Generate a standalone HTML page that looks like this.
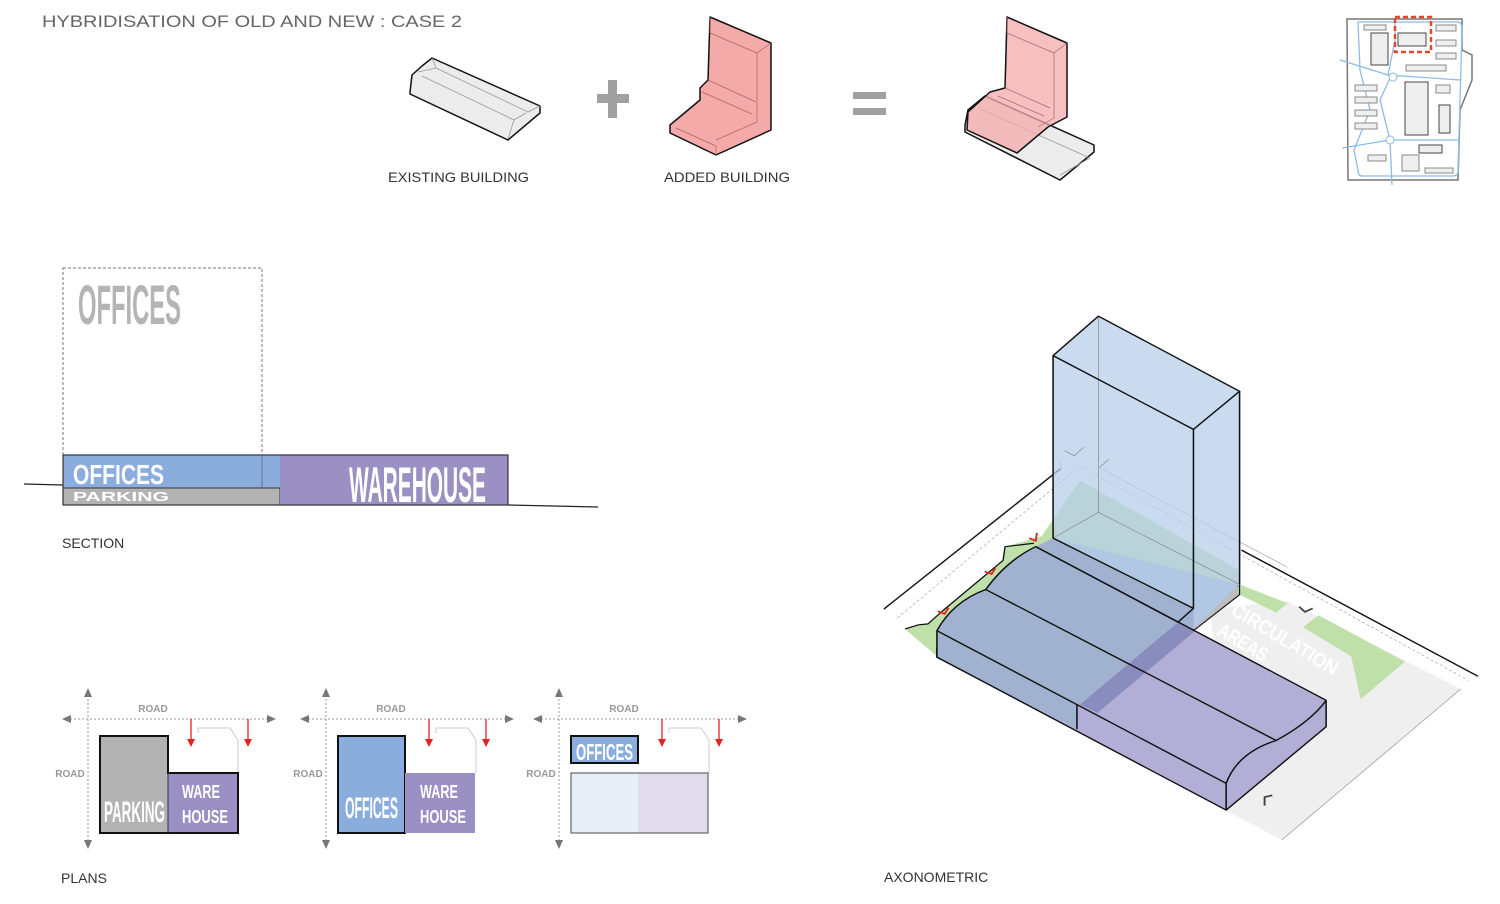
<!DOCTYPE html>
<html><head><meta charset="utf-8"><style>
html,body{margin:0;padding:0;background:#fff}
svg{display:block}
.l{font-family:"Liberation Sans",sans-serif;fill:#333}
.n{font-family:"Liberation Sans Narrow","Liberation Sans",sans-serif;font-weight:bold}
</style></head><body>
<svg width="1500" height="904" viewBox="0 0 1500 904" xmlns="http://www.w3.org/2000/svg">
<text x="42" y="27" class="l" font-size="17" style="fill:#666" textLength="420" lengthAdjust="spacingAndGlyphs">HYBRIDISATION OF OLD AND NEW : CASE 2</text>
<text x="388" y="182" class="l" font-size="14" textLength="141" lengthAdjust="spacingAndGlyphs">EXISTING BUILDING</text>
<text x="664" y="182" class="l" font-size="14" textLength="126" lengthAdjust="spacingAndGlyphs">ADDED BUILDING</text>
<text x="62" y="548" class="l" font-size="14">SECTION</text>
<text x="61" y="883" class="l" font-size="14">PLANS</text>
<text x="884" y="882" class="l" font-size="14">AXONOMETRIC</text>

<g stroke="#111" stroke-width="1.5" stroke-linejoin="round">
<path d="M410,92 L412,75 L422,66 L432,58 L540,106 L540,113 L508,140 L410,94 Z" fill="#ececec"/>
<path d="M432,58 L436,68 L528,112 L540,106 M436,68 L418,72 M422,76 L514,120 L526,113 M514,120 L508,139" fill="none" stroke="#999" stroke-width="0.8"/>
</g>
<rect x="597" y="94" width="32" height="9" fill="#a0a0a0"/><rect x="608" y="80" width="9" height="38" fill="#a0a0a0"/>
<rect x="853" y="92" width="33" height="7" fill="#a0a0a0"/><rect x="853" y="108" width="33" height="7" fill="#a0a0a0"/>
<g stroke="#111" stroke-width="1.5" stroke-linejoin="round">
<path d="M710,17 L771,43 L771,130 L716,155 L670,133 L670,125 L700,100 L700,88 L708,80 Z" fill="#f4aaa9"/>
<path d="M710,17 L710,33 L757,53 L771,43 M757,53 L757,122 L716,140 M708,80 L756,102 M702,92 L752,114 M676,128 L716,146 L716,155" fill="none" stroke="#a66" stroke-width="0.7"/>
</g>
<g stroke="#111" stroke-width="1.5" stroke-linejoin="round">
<path d="M965,125 L968,110 L985,96 L1094,145 L1094,152 L1060,180 L965,132 Z" fill="#ececec"/>
<path d="M978,108 L1090,158 L1060,175" fill="none" stroke="#999" stroke-width="0.8"/>
<path d="M1007,17 L1067,43 L1067,117 L1048,127 L1017,153 L967,130 L968,112 L990,92 L1005,88 Z" fill="#f4aaa9" fill-opacity="0.75"/>
<path d="M1007,17 L1007,33 L1054,53 L1067,43 M1054,53 L1054,118 L1038,127 M1005,88 L1050,108 M998,96 L1044,116" fill="none" stroke="#a66" stroke-width="0.7"/>
</g>

<g fill="#efefef" stroke="#888" stroke-width="1">
<path d="M1347,19 L1462,19 L1462,50 L1472,55 L1472,80 L1460,110 L1458,180 L1348,180 Z" fill="#fff" stroke="#777" stroke-width="1.5"/>
<path d="M1358,22 L1458,22 Q1462,22 1462,30 L1458,172 Q1458,176 1452,176 L1362,176 Q1358,176 1358,170 L1354,150 L1370,110 L1360,70 L1358,22 Z" fill="none" stroke="#8cbce6" stroke-width="1.3"/>
<path d="M1340,60 L1388,75 L1395,40 L1395,22 M1388,75 L1460,80 M1390,78 L1380,100 L1390,140 L1460,140 M1390,140 L1392,185 M1342,148 L1390,140" fill="none" stroke="#8cbce6" stroke-width="1.3"/>
<circle cx="1393" cy="77" r="4" fill="#fff" stroke="#8cbce6"/><circle cx="1390" cy="140" r="4" fill="#fff" stroke="#8cbce6"/>
<rect x="1371" y="33" width="17" height="32" stroke="#444"/>
<rect x="1398" y="33" width="28" height="13" stroke="#444"/>
<rect x="1405" y="82" width="23" height="53" stroke="#444"/>
<rect x="1439" y="105" width="11" height="28" stroke="#444"/>
<rect x="1419" y="145" width="23" height="8" stroke="#444"/>
<rect x="1436" y="25" width="20" height="6"/><rect x="1436" y="40" width="20" height="6"/><rect x="1436" y="53" width="20" height="6"/><rect x="1406" y="65" width="40" height="6"/>
<rect x="1355" y="85" width="22" height="6"/><rect x="1355" y="97" width="22" height="6"/><rect x="1355" y="110" width="22" height="6"/><rect x="1355" y="123" width="22" height="6"/>
<rect x="1368" y="155" width="18" height="6"/><rect x="1402" y="155" width="17" height="16"/><rect x="1425" y="168" width="28" height="5"/>
<rect x="1436" y="85" width="14" height="8"/><rect x="1364" y="25" width="22" height="5"/>
</g>
<rect x="1395" y="17" width="36" height="35" fill="none" stroke="#e8472c" stroke-width="2.5" stroke-dasharray="5,3"/>

<rect x="63" y="268" width="199" height="187" fill="none" stroke="#777" stroke-width="1" stroke-dasharray="3,2"/>
<text x="78" y="324" class="n" font-size="56" fill="#b4b4b4" textLength="103" lengthAdjust="spacingAndGlyphs">OFFICES</text>
<line x1="24" y1="484" x2="63" y2="485" stroke="#222" stroke-width="1.2"/>
<line x1="508" y1="505" x2="598" y2="507" stroke="#222" stroke-width="1.2"/>
<rect x="63" y="455" width="217" height="33" fill="#8aaddd"/>
<rect x="63" y="488" width="217" height="17" fill="#b3b3b3" stroke="#333" stroke-width="1"/>
<rect x="280" y="455" width="228" height="50" fill="#9a90c4"/>
<rect x="63" y="455" width="445" height="50" fill="none" stroke="#333" stroke-width="1.2"/>
<line x1="262" y1="455" x2="262" y2="488" stroke="#666" stroke-width="0.8"/>
<text x="73" y="484" class="n" font-size="28" fill="#fff" textLength="91" lengthAdjust="spacingAndGlyphs">OFFICES</text>
<text x="73" y="501" font-family="Liberation Sans,sans-serif" font-weight="bold" font-size="13" fill="#fff" textLength="96" lengthAdjust="spacingAndGlyphs">PARKING</text>
<text x="349" y="502" class="n" font-size="50" fill="#fff" textLength="137" lengthAdjust="spacingAndGlyphs">WAREHOUSE</text>

<defs>
<g id="ax">
<line x1="88" y1="695" x2="88" y2="842" stroke="#999" stroke-dasharray="2,2"/>
<line x1="70" y1="719" x2="270" y2="719" stroke="#999" stroke-dasharray="2,2"/>
<path d="M84,697 L88,688 L92,697 Z M84,840 L88,849 L92,840 Z M71,715 L62,719 L71,723 Z M267,715 L276,719 L267,723 Z" fill="#777"/>
<text x="153" y="712" class="n" font-size="10" fill="#999" text-anchor="middle">ROAD</text>
<text x="70" y="777" class="n" font-size="10" fill="#999" text-anchor="middle">ROAD</text>
<path d="M198,733 L198,728 L230,728 L238,740 L238,773" fill="none" stroke="#ccc" stroke-width="1"/>
<line x1="191" y1="719" x2="191" y2="740" stroke="#e52222" stroke-width="1.3"/><path d="M187,739 L191,747 L195,739 Z" fill="#e52222"/>
<line x1="248" y1="719" x2="248" y2="740" stroke="#e52222" stroke-width="1.3"/><path d="M244,739 L248,747 L252,739 Z" fill="#e52222"/>
</g>
</defs>
<use href="#ax"/>
<rect x="100" y="736" width="68" height="97" fill="#b3b3b3"/>
<rect x="168" y="773" width="70" height="60" fill="#9a90c4"/>
<path d="M100,736 L168,736 L168,773 L238,773 L238,833 L100,833 Z" fill="none" stroke="#111" stroke-width="2"/>
<line x1="168" y1="773" x2="168" y2="833" stroke="#333" stroke-width="1"/>
<text x="104" y="822" class="n" font-size="30" fill="#fff" textLength="61" lengthAdjust="spacingAndGlyphs">PARKING</text>
<text x="182" y="798" class="n" font-size="18" fill="#fff" textLength="38" lengthAdjust="spacingAndGlyphs">WARE</text>
<text x="182" y="823" class="n" font-size="18" fill="#fff" textLength="46" lengthAdjust="spacingAndGlyphs">HOUSE</text>

<use href="#ax" transform="translate(238,0)"/>
<rect x="338" y="736" width="67" height="97" fill="#8aaddd" stroke="#111" stroke-width="2"/>
<rect x="405" y="773" width="70" height="60" fill="#9a90c4"/>
<text x="345" y="818" class="n" font-size="30" fill="#fff" textLength="53" lengthAdjust="spacingAndGlyphs">OFFICES</text>
<text x="420" y="798" class="n" font-size="18" fill="#fff" textLength="38" lengthAdjust="spacingAndGlyphs">WARE</text>
<text x="420" y="823" class="n" font-size="18" fill="#fff" textLength="46" lengthAdjust="spacingAndGlyphs">HOUSE</text>

<use href="#ax" transform="translate(471,0)"/>
<rect x="571" y="773" width="67" height="60" fill="#e8eef8"/>
<rect x="638" y="773" width="70" height="60" fill="#e1dcec"/>
<rect x="571" y="773" width="137" height="60" fill="none" stroke="#666" stroke-width="1.2"/>
<rect x="571" y="736" width="67" height="27" fill="#8aaddd" stroke="#111" stroke-width="2"/>
<text x="576" y="760" class="n" font-size="23" fill="#fff" textLength="57" lengthAdjust="spacingAndGlyphs">OFFICES</text>

<g transform="translate(880,310) scale(0.3846,0.343)" stroke-linejoin="round">
<path d="M860,870 L1060,850 L1510,1105 L1045,1545 L900,1460 Z" fill="#efefef"/>
<path d="M1510,1105 L1045,1545" stroke="#999" stroke-width="2" fill="none"/>
<path d="M65,930 L125,915 L165,875 L320,730 L325,690 L420,660 L520,497 L935,760 L935,800 L1060,855 L1030,882 L935,830 L148,1010 Z" fill="#bfe0a8"/>
<path d="M1100,925 L1140,890 L1365,1025 L1250,1135 L1225,1010 Z" fill="#bfe0a8"/>
<path d="M10,872 L470,462" stroke="#111" stroke-width="4" fill="none"/>
<path d="M940,700 L1555,1068" stroke="#111" stroke-width="4" fill="none"/>
<path d="M45,898 L520,455 L1530,1080" stroke="#aaa" stroke-width="2" stroke-dasharray="8,6" fill="none"/>
<path d="M470,462 L470,440 M570,460 L1060,750" stroke="#aaa" stroke-width="2" fill="none"/>
<path d="M65,930 L100,918 L125,915 L165,875 L320,730 L325,690 L400,680" stroke="#111" stroke-width="3.5" fill="none"/>
</g>
<text transform="translate(1230,614) rotate(31)" font-family="Liberation Sans Narrow,Liberation Sans,sans-serif" font-weight="bold" font-size="20" fill="#fff" textLength="120" lengthAdjust="spacingAndGlyphs">CIRCULATION</text>
<text transform="translate(1216,634) rotate(31)" font-family="Liberation Sans Narrow,Liberation Sans,sans-serif" font-weight="bold" font-size="20" fill="#fff" textLength="55" lengthAdjust="spacingAndGlyphs">AREAS</text>
<g transform="translate(880,310) scale(0.3846,0.343)" stroke-linejoin="round">
<path d="M148,985 L148,1012 L512,1222 L512,1195 Z" fill="#bdbdbd" stroke="#111" stroke-width="4"/>
<path d="M935,800 L935,830 L815,935 L815,905 Z" fill="#bdbdbd" stroke="#111" stroke-width="3"/>
<path d="M148,935 Q190,850 275,815 Q330,730 405,690 L1160,1138 L1160,1215 L900,1458 L148,1012 Z" fill="#b3aed6"/>
<path d="M148,935 Q190,850 275,815 Q330,730 405,690 L450,665 L935,800 L815,930 L775,910 L520,1150 L512,1222 L148,1012 Z" fill="#a0b2cf"/>
<path d="M775,910 L820,935 L565,1175 L520,1150 Z" fill="#7d84b8" opacity="0.8"/>
<g fill="none" stroke="#111" stroke-width="4">
<path d="M148,935 Q190,850 275,815 Q330,730 405,690 L1160,1138 L1160,1215 L900,1458 L148,1012 Z"/>
<path d="M148,935 L900,1380 L900,1458 M900,1380 Q930,1290 1030,1255 Q1120,1200 1160,1138"/>
<path d="M275,815 L1030,1255"/>
<path d="M512,1150 L512,1222"/>
</g>
<path d="M568,18 L935,237 L935,800 L815,930 L815,870 L450,665 L450,133 Z" fill="#b8cdea" fill-opacity="0.75"/>
<g fill="none" stroke="#777" stroke-width="1.5">
<path d="M568,18 L568,590 L935,800 M568,590 L450,665 M480,410 L505,425 L530,400 M570,460 L595,435"/>
</g>
<g fill="none" stroke="#111" stroke-width="4">
<path d="M568,18 L935,237 L815,348 L450,133 Z"/>
<path d="M450,133 L450,665 L815,870 L815,348 M935,237 L935,800"/>
<path d="M405,690 L775,910 L815,870"/>
</g>
<g fill="none" stroke="#e52222" stroke-width="5">
<path d="M150,878 L168,886 L178,868"/><path d="M272,762 L290,770 L300,752"/><path d="M388,665 L405,673 L408,650"/>
</g>
<g fill="none" stroke="#444" stroke-width="5">
<path d="M1090,865 L1105,880 L1125,870"/><path d="M1000,1445 L1000,1420 L1020,1415"/>
</g>
</g>
</svg>
</body></html>
